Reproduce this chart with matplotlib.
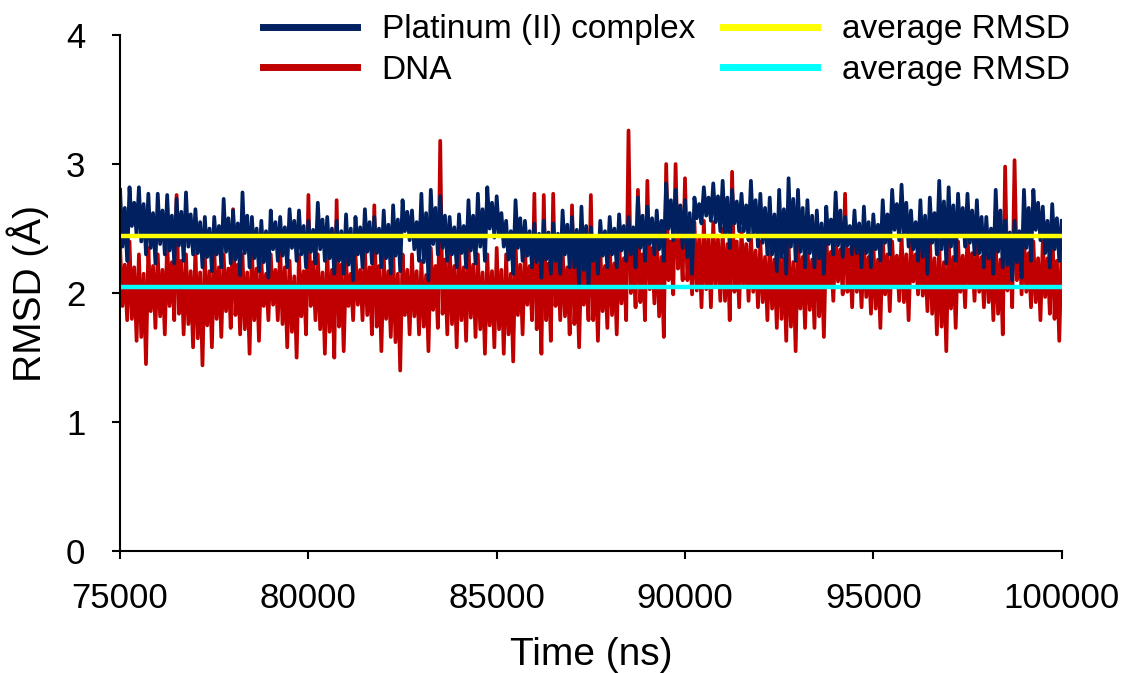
import numpy as np
import matplotlib
matplotlib.use("Agg")
import matplotlib.pyplot as plt

plt.rcParams['font.family'] = ['Liberation Sans', 'DejaVu Sans']

# RMSD (Å), one sample every 62.5 ns from 75000 ns
pt_rmsd = [
    2.80, 2.36, 2.66, 2.25, 2.82, 2.52, 2.70, 2.45, 2.82, 2.40, 2.69, 2.30, 2.77, 2.35, 2.62, 2.23, 2.77, 2.38, 2.64, 2.30,
    2.76, 2.33, 2.60, 2.23, 2.73, 2.37, 2.63, 2.25, 2.78, 2.36, 2.61, 2.30, 2.65, 2.31, 2.55, 2.20, 2.59, 2.28, 2.50, 2.17,
    2.59, 2.30, 2.52, 2.20, 2.73, 2.32, 2.58, 2.23, 2.64, 2.26, 2.54, 2.14, 2.78, 2.31, 2.60, 2.20, 2.59, 2.27, 2.50, 2.17,
    2.56, 2.24, 2.48, 2.12, 2.64, 2.34, 2.55, 2.25, 2.59, 2.29, 2.51, 2.20, 2.65, 2.35, 2.56, 2.25, 2.64, 2.30, 2.52, 2.20,
    2.56, 2.32, 2.49, 2.23, 2.70, 2.34, 2.57, 2.25, 2.59, 2.27, 2.50, 2.15, 2.56, 2.25, 2.48, 2.15, 2.61, 2.22, 2.50, 2.10,
    2.59, 2.30, 2.51, 2.20, 2.65, 2.32, 2.55, 2.23, 2.59, 2.31, 2.50, 2.20, 2.64, 2.27, 2.53, 2.15, 2.68, 2.29, 2.57, 2.17,
    2.72, 2.48, 2.63, 2.41, 2.64, 2.34, 2.55, 2.25, 2.77, 2.24, 2.62, 2.10, 2.80, 2.38, 2.66, 2.30, 2.75, 2.35, 2.60, 2.25,
    2.59, 2.30, 2.51, 2.20, 2.61, 2.31, 2.52, 2.20, 2.72, 2.33, 2.60, 2.23, 2.77, 2.36, 2.65, 2.25, 2.82, 2.50, 2.70, 2.43,
    2.75, 2.44, 2.62, 2.36, 2.56, 2.26, 2.48, 2.15, 2.72, 2.35, 2.58, 2.25, 2.56, 2.29, 2.48, 2.20, 2.54, 2.24, 2.46, 2.12,
    2.56, 2.26, 2.47, 2.15, 2.54, 2.25, 2.46, 2.15, 2.64, 2.30, 2.53, 2.20, 2.59, 2.20, 2.49, 2.07, 2.67, 2.18, 2.52, 2.05,
    2.51, 2.25, 2.44, 2.15, 2.56, 2.29, 2.48, 2.20, 2.59, 2.30, 2.50, 2.20, 2.61, 2.33, 2.52, 2.25, 2.59, 2.30, 2.51, 2.20,
    2.74, 2.35, 2.60, 2.25, 2.67, 2.38, 2.58, 2.30, 2.64, 2.34, 2.56, 2.25, 2.85, 2.50, 2.72, 2.41, 2.80, 2.45, 2.68, 2.35,
    2.72, 2.28, 2.62, 2.15, 2.74, 2.58, 2.69, 2.54, 2.82, 2.60, 2.74, 2.56, 2.85, 2.55, 2.75, 2.48, 2.87, 2.45, 2.74, 2.35,
    2.80, 2.54, 2.71, 2.48, 2.77, 2.48, 2.68, 2.41, 2.87, 2.45, 2.72, 2.36, 2.77, 2.39, 2.66, 2.30, 2.74, 2.30, 2.61, 2.17,
    2.80, 2.28, 2.65, 2.15, 2.89, 2.36, 2.73, 2.25, 2.80, 2.32, 2.66, 2.20, 2.72, 2.31, 2.60, 2.20, 2.64, 2.27, 2.54, 2.15,
    2.67, 2.38, 2.57, 2.30, 2.78, 2.37, 2.64, 2.28, 2.59, 2.37, 2.52, 2.30, 2.64, 2.31, 2.54, 2.20, 2.67, 2.31, 2.55, 2.20,
    2.61, 2.34, 2.53, 2.25, 2.72, 2.39, 2.61, 2.30, 2.80, 2.49, 2.69, 2.41, 2.84, 2.45, 2.70, 2.36, 2.64, 2.34, 2.55, 2.25,
    2.72, 2.28, 2.60, 2.15, 2.74, 2.39, 2.62, 2.30, 2.87, 2.34, 2.71, 2.23, 2.82, 2.36, 2.68, 2.25, 2.77, 2.44, 2.66, 2.36,
    2.77, 2.39, 2.64, 2.30, 2.72, 2.31, 2.59, 2.20, 2.59, 2.27, 2.50, 2.15, 2.80, 2.32, 2.64, 2.20, 2.56, 2.22, 2.47, 2.10,
    2.56, 2.24, 2.48, 2.12, 2.80, 2.35, 2.66, 2.25, 2.80, 2.49, 2.70, 2.41, 2.67, 2.31, 2.56, 2.20, 2.69, 2.34, 2.58, 2.25,
    2.56,
]

dna_rmsd = [
    2.35, 1.90, 2.22, 1.79, 2.40, 1.80, 2.20, 1.63, 2.30, 1.66, 2.15, 1.45, 2.35, 1.86, 2.21, 1.73, 2.30, 1.82, 2.18, 1.68,
    2.40, 1.90, 2.24, 1.79, 2.76, 1.84, 2.25, 1.68, 2.30, 1.76, 2.17, 1.58, 2.35, 1.65, 2.16, 1.44, 2.30, 1.75, 2.17, 1.58,
    2.35, 1.80, 2.20, 1.66, 2.30, 1.86, 2.19, 1.73, 2.65, 1.83, 2.22, 1.68, 2.30, 1.72, 2.16, 1.53, 2.35, 1.79, 2.19, 1.63,
    2.25, 1.90, 2.15, 1.79, 2.30, 1.91, 2.18, 1.79, 2.35, 1.76, 2.20, 1.58, 2.25, 1.70, 2.13, 1.50, 2.30, 1.82, 2.17, 1.68,
    2.76, 1.90, 2.24, 1.79, 2.30, 1.72, 2.16, 1.53, 2.35, 1.70, 2.18, 1.50, 2.72, 1.74, 2.22, 1.55, 2.25, 1.90, 2.15, 1.79,
    2.30, 1.91, 2.18, 1.79, 2.35, 1.83, 2.20, 1.68, 2.68, 1.74, 2.21, 1.55, 2.30, 1.80, 2.17, 1.66, 2.35, 1.62, 2.15, 1.40,
    2.30, 1.83, 2.18, 1.68, 2.30, 1.82, 2.17, 1.68, 2.25, 1.74, 2.14, 1.55, 2.35, 1.87, 2.21, 1.73, 3.18, 1.84, 2.26, 1.68,
    2.40, 1.76, 2.21, 1.58, 2.35, 1.79, 2.20, 1.63, 2.40, 1.81, 2.22, 1.66, 2.30, 1.72, 2.16, 1.53, 2.30, 1.75, 2.17, 1.58,
    2.35, 1.72, 2.18, 1.53, 2.30, 1.68, 2.15, 1.47, 2.40, 1.83, 2.22, 1.68, 2.35, 1.91, 2.21, 1.79, 2.77, 1.72, 2.22, 1.53,
    2.76, 1.79, 2.23, 1.63, 2.77, 1.90, 2.25, 1.79, 2.35, 1.82, 2.20, 1.68, 2.68, 1.76, 2.22, 1.58, 2.30, 1.91, 2.19, 1.79,
    2.76, 1.79, 2.24, 1.63, 2.35, 1.86, 2.21, 1.73, 2.40, 1.83, 2.23, 1.68, 2.45, 1.92, 2.27, 1.79, 3.26, 2.00, 2.33, 1.89,
    2.80, 1.93, 2.30, 1.79, 2.87, 2.03, 2.35, 1.92, 2.45, 1.82, 2.28, 1.66, 3.00, 2.10, 2.40, 1.99, 3.00, 2.19, 2.45, 2.10,
    2.89, 2.10, 2.42, 1.99, 2.55, 2.02, 2.42, 1.89, 2.56, 2.03, 2.43, 1.89, 2.55, 2.06, 2.42, 1.94, 2.50, 1.94, 2.38, 1.79,
    2.94, 2.01, 2.40, 1.89, 2.50, 2.05, 2.38, 1.94, 2.45, 2.01, 2.33, 1.89, 2.40, 1.93, 2.28, 1.79, 2.40, 1.88, 2.26, 1.73,
    2.45, 1.80, 2.27, 1.63, 2.40, 1.74, 2.24, 1.55, 2.45, 1.88, 2.28, 1.73, 2.40, 1.87, 2.26, 1.73, 2.60, 1.82, 2.28, 1.66,
    2.45, 2.05, 2.32, 1.94, 2.45, 2.09, 2.34, 1.99, 2.77, 2.01, 2.34, 1.89, 2.45, 2.01, 2.31, 1.89, 2.40, 1.97, 2.28, 1.84,
    2.40, 1.88, 2.26, 1.73, 2.45, 1.99, 2.30, 1.86, 2.40, 2.05, 2.29, 1.94, 2.45, 1.93, 2.30, 1.79, 2.40, 2.09, 2.30, 1.99,
    2.40, 1.98, 2.28, 1.86, 2.45, 1.84, 2.27, 1.68, 2.40, 1.74, 2.24, 1.55, 2.45, 1.88, 2.28, 1.73, 2.40, 2.01, 2.29, 1.89,
    2.45, 2.05, 2.31, 1.94, 2.40, 2.01, 2.28, 1.89, 2.45, 1.93, 2.29, 1.79, 2.40, 1.84, 2.26, 1.68, 2.98, 2.02, 2.44, 1.89,
    3.03, 2.10, 2.46, 1.99, 2.45, 2.01, 2.31, 1.89, 2.40, 1.93, 2.27, 1.79, 2.40, 1.97, 2.27, 1.84, 2.59, 1.80, 2.25, 1.63,
    2.35,
]

time_ns = 75000 + 62.5 * np.arange(len(pt_rmsd))

avg_pt = 2.44
avg_dna = 2.05

fig = plt.figure(figsize=(11.33, 6.73), dpi=100)
ax = fig.add_axes([0.106, 0.181, 0.831, 0.767])

l_dna, = ax.plot(time_ns, dna_rmsd, color='#C00000', lw=2.7, label='DNA')
l_pt, = ax.plot(time_ns, pt_rmsd, color='#002060', lw=2.7, label='Platinum (II) complex')
l_y, = ax.plot([75000, 100000], [avg_pt, avg_pt], color='#FFFF00', lw=3.2, label='average RMSD')
l_c, = ax.plot([75000, 100000], [avg_dna, avg_dna], color='#00FFFF', lw=3.2, label='average RMSD')

ax.set_xlim(75000, 100000)
ax.set_ylim(0, 4)
ax.set_xticks(np.arange(75000, 100001, 5000))
ax.set_yticks([0, 1, 2, 3, 4])
for s in ['top', 'right']:
    ax.spines[s].set_visible(False)
for s in ['left', 'bottom']:
    ax.spines[s].set_linewidth(1.5)
ax.tick_params(direction='out', length=6, width=1.5, labelsize=25)
ax.tick_params(axis='x', pad=16)
ax.tick_params(axis='y', pad=19)
ax.set_xlabel('Time (ns)', fontsize=28, labelpad=16)
ax.set_ylabel('RMSD (Å)', fontsize=28, labelpad=12)

leg = ax.legend([l_pt, l_dna, l_y, l_c],
                ['Platinum (II) complex', 'DNA', 'average RMSD', 'average RMSD'],
                ncol=2, frameon=False, fontsize=24, loc='upper left',
                bbox_to_anchor=(0.152, 1.04), borderaxespad=0, borderpad=0,
                handlelength=2.8, handletextpad=0.75, columnspacing=0.85,
                labelspacing=0.28)
for ln in leg.get_lines():
    ln.set_linewidth(5)

fig.savefig('out.png', dpi=100)
